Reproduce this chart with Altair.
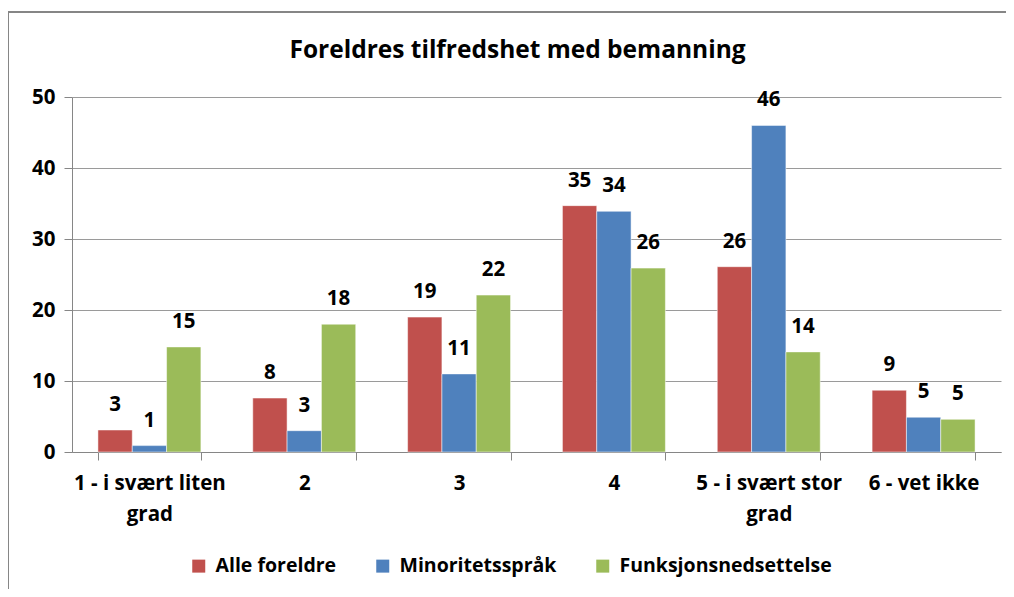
import altair as alt
import pandas as pd

categories = ["1 - i svært liten grad", "2", "3", "4", "5 - i svært stor grad", "6 - vet ikke"]
series = ["Alle foreldre", "Minoritetsspråk", "Funksjonsnedsettelse"]
alle = [3.1, 7.6, 19.0, 34.7, 26.1, 8.7]
minor = [0.9, 3.0, 11.0, 33.9, 46.0, 4.9]
funk = [14.8, 18.0, 22.1, 25.9, 14.1, 4.6]
colors = ["#C0504D", "#4F81BD", "#9BBB59"]

rows = []
for s, vals in zip(series, [alle, minor, funk]):
    for c, v in zip(categories, vals):
        rows.append({"kategori": c, "serie": s, "verdi": v})
df = pd.DataFrame(rows)

FONT = "Open Sans"
FS = 20.5

x = alt.X("kategori:N", sort=categories, title=None,
          scale=alt.Scale(paddingInner=0.335, paddingOuter=0.1675),
          axis=alt.Axis(labelAngle=0, labelFontSize=FS, labelFontWeight="bold", labelColor="#000",
                        labelFont=FONT, tickBand="extent", tickSize=8, tickColor="#868686",
                        domainColor="#868686", labelPadding=13, labelLineHeight=31,
                        labelExpr="indexof(datum.label, ' grad') > 0 ? [replace(datum.label, ' grad', ''), 'grad'] : datum.label"))
xo = alt.XOffset("serie:N", sort=series, scale=alt.Scale(paddingInner=0, paddingOuter=0))
y = alt.Y("verdi:Q", title=None,
          scale=alt.Scale(domain=[0, 50], nice=False),
          axis=alt.Axis(values=[0, 10, 20, 30, 40, 50], labelFontSize=FS, labelFontWeight="bold",
                        labelColor="#000", labelFont=FONT, tickSize=8, tickColor="#868686",
                        domainColor="#868686", gridColor="#9a9a9a", labelPadding=9))

base = alt.Chart(df)

bars = base.mark_bar(stroke="white", strokeWidth=0.5).encode(
    x=x, xOffset=xo, y=y,
    color=alt.Color("serie:N", sort=series, title=None,
                    scale=alt.Scale(domain=series, range=colors),
                    legend=alt.Legend(orient="none", direction="horizontal", legendX=117, legendY=459,
                                      symbolType="square", symbolSize=169, symbolStrokeWidth=0,
                                      labelFontSize=19.5, labelFontWeight="bold", labelFont=FONT,
                                      labelColor="#000", columnPadding=36, labelOffset=7,
                                      labelLimit=400)),
)

labels = base.mark_text(fontSize=FS, fontWeight="bold", font=FONT, color="#000",
                        baseline="middle", dy=-25).encode(
    x=x, xOffset=xo, y=y, text=alt.Text("verdi:Q", format=".0f"))

frame_data = pd.DataFrame({"f": [0]})
frame_top = alt.Chart(frame_data).mark_rule(stroke="#868686", strokeWidth=2).encode(
    x=alt.value(-64), x2=alt.value(934), y=alt.value(-85))
frame_left = alt.Chart(frame_data).mark_rule(stroke="#868686", strokeWidth=2).encode(
    x=alt.value(-64), y=alt.value(-86), y2=alt.value(500))

chart = alt.layer(frame_top, frame_left, bars, labels).properties(
    width=929, height=355,
    title=alt.TitleParams("Foreldres tilfredshet  med bemanning", fontSize=24.5, fontWeight="bold",
                          font=FONT, color="#000", anchor="middle", dx=-19, offset=-53),
    autosize=alt.AutoSizeParams(type="none"),
    padding={"left": 64, "top": 89, "right": 5, "bottom": 137},
).configure_view(stroke=None).configure_axis(grid=True).configure_axisX(grid=False)

chart.save("out.html", embed_options={"renderer": "svg", "actions": False})
